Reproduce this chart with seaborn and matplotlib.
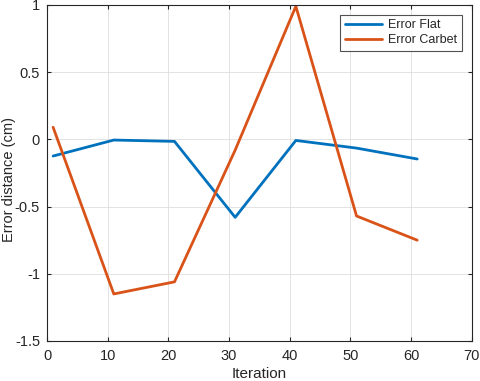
import matplotlib
matplotlib.use("Agg")
import matplotlib.pyplot as plt
import seaborn as sns
import pandas as pd

iterations = [1, 11, 21, 31, 41, 51, 61]
error_flat = [-0.124, -0.005, -0.015, -0.58, -0.008, -0.065, -0.146]
error_carbet = [0.09, -1.15, -1.06, -0.08, 0.99, -0.57, -0.75]
series_names = ["Error Flat", "Error Carbet"]
colors = ["#0072BD", "#D95319"]

df = pd.DataFrame({
    "Iteration": iterations * 2,
    "value": error_flat + error_carbet,
    "series": [series_names[0]] * len(iterations) + [series_names[1]] * len(iterations),
})

sns.set_style("whitegrid")
plt.rcParams["font.family"] = ["Liberation Sans", "DejaVu Sans"]

fig = plt.figure(figsize=(4.8, 3.81), dpi=100)
ax = fig.add_axes([0.098, 0.105, 0.885, 0.882])
sns.lineplot(data=df, x="Iteration", y="value", hue="series", palette=colors,
             linewidth=2, ax=ax, sort=False)

ax.set_xlim(0, 70)
ax.set_ylim(-1.5, 1)
ax.set_xticks(range(0, 71, 10))
ax.set_yticks([-1.5, -1, -0.5, 0, 0.5, 1])
ax.set_yticklabels(["-1.5", "-1", "-0.5", "0", "0.5", "1"])
ax.set_xlabel("Iteration", fontsize=11, color="#262626", labelpad=3)
ax.set_ylabel("Error distance (cm)", fontsize=10.5, color="#262626")
ax.yaxis.set_label_coords(-0.072, 0.48)
ax.tick_params(axis="both", direction="in", length=3, labelsize=10.5, colors="#262626",
               top=True, right=True, bottom=True, left=True)
ax.tick_params(axis="x", labelbottom=True, labeltop=False, pad=6)
ax.tick_params(axis="y", labelleft=True, labelright=False, pad=5)
ax.grid(True, color="#DEDEDE", linewidth=0.6)
for s in ax.spines.values():
    s.set_color("#262626")
    s.set_linewidth(0.8)
    s.set_visible(True)

leg = ax.legend(loc="upper right", fontsize=9, frameon=True, fancybox=False,
                handlelength=3.0, borderaxespad=0.8, title=None,
                borderpad=0.35, labelspacing=0.25, handletextpad=0.5)
leg.get_frame().set_edgecolor("#262626")
leg.get_frame().set_linewidth(0.8)
for line in leg.get_lines():
    line.set_linewidth(2)

fig.savefig("out.png", dpi=100)
